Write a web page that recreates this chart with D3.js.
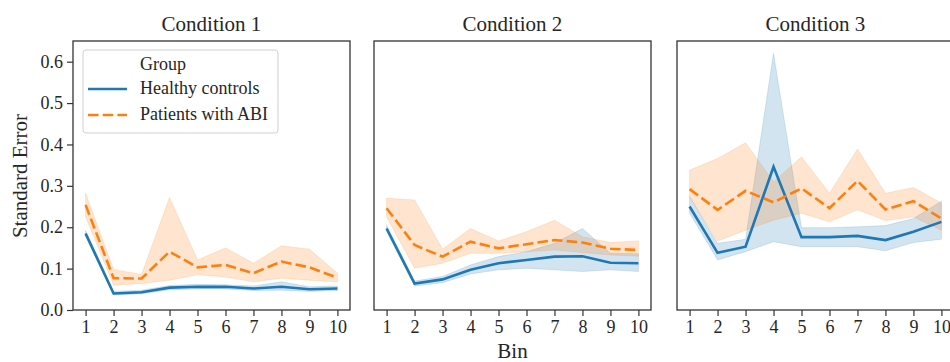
<!DOCTYPE html>
<html>
<head>
<meta charset="utf-8">
<script src="https://cdn.jsdelivr.net/npm/d3@7"></script>
<style>
  body { margin: 0; background: #fff; }
  svg { display: block; font-family: "Liberation Serif", "Times New Roman", serif; }
</style>
</head>
<body>
<div id="container"></div>
<script>
var width = 950;
var height = 362;

// data
var bins = [1, 2, 3, 4, 5, 6, 7, 8, 9, 10];
var conditions = ["Condition 1", "Condition 2", "Condition 3"];
var groups = ["Healthy controls", "Patients with ABI"];
var yTicks = [0.0, 0.1, 0.2, 0.3, 0.4, 0.5, 0.6];

// Healthy controls: mean, lower, upper (per condition)
var hcMean = [
  [0.185, 0.040, 0.043, 0.054, 0.056, 0.056, 0.052, 0.056, 0.050, 0.052],
  [0.197, 0.064, 0.074, 0.097, 0.113, 0.121, 0.129, 0.130, 0.114, 0.113],
  [0.250, 0.138, 0.153, 0.346, 0.176, 0.176, 0.179, 0.169, 0.189, 0.213]
];
var hcLow = [
  [0.178, 0.036, 0.039, 0.049, 0.051, 0.051, 0.047, 0.048, 0.045, 0.047],
  [0.190, 0.058, 0.066, 0.087, 0.097, 0.101, 0.097, 0.093, 0.097, 0.093],
  [0.234, 0.121, 0.141, 0.165, 0.153, 0.153, 0.153, 0.143, 0.163, 0.171]
];
var hcHigh = [
  [0.192, 0.045, 0.048, 0.059, 0.062, 0.061, 0.058, 0.068, 0.056, 0.058],
  [0.205, 0.070, 0.081, 0.109, 0.129, 0.141, 0.161, 0.197, 0.137, 0.136],
  [0.274, 0.161, 0.171, 0.620, 0.199, 0.199, 0.201, 0.204, 0.221, 0.263]
];

// Patients with ABI: mean, lower, upper (per condition)
var abiMean = [
  [0.254, 0.077, 0.076, 0.141, 0.103, 0.109, 0.089, 0.117, 0.103, 0.078],
  [0.246, 0.157, 0.129, 0.165, 0.149, 0.159, 0.169, 0.163, 0.148, 0.145],
  [0.292, 0.242, 0.288, 0.260, 0.294, 0.246, 0.312, 0.243, 0.263, 0.221]
];
var abiLow = [
  [0.225, 0.060, 0.064, 0.072, 0.085, 0.080, 0.068, 0.077, 0.072, 0.068],
  [0.225, 0.101, 0.113, 0.137, 0.137, 0.141, 0.145, 0.139, 0.133, 0.130],
  [0.274, 0.167, 0.193, 0.217, 0.234, 0.213, 0.242, 0.216, 0.225, 0.193]
];
var abiHigh = [
  [0.282, 0.098, 0.086, 0.272, 0.121, 0.150, 0.113, 0.155, 0.147, 0.089],
  [0.270, 0.266, 0.147, 0.197, 0.167, 0.189, 0.217, 0.177, 0.163, 0.167],
  [0.338, 0.366, 0.404, 0.310, 0.370, 0.282, 0.389, 0.282, 0.296, 0.258]
];

var blue = "#1f77b4";
var orange = "#ff7f0e";

var panelLeft = [73, 374, 677];
var panelW = 277;
var plotTop = 41, plotBottom = 310;

var svg = d3.select("#container").append("svg")
  .attr("width", width).attr("height", height);

var y = d3.scaleLinear().domain([0, 0.65]).range([plotBottom, plotTop]);

conditions.forEach(function (cond, ci) {
  var x = d3.scaleLinear().domain([0.55, 10.45]).range([panelLeft[ci], panelLeft[ci] + panelW]);
  var g = svg.append("g");

  var series = [
    { mean: hcMean[ci], lo: hcLow[ci], hi: hcHigh[ci], color: blue, dash: null },
    { mean: abiMean[ci], lo: abiLow[ci], hi: abiHigh[ci], color: orange, dash: "10.5,4.2" }
  ];

  series.forEach(function (s) {
    var area = d3.area()
      .x(function (d, i) { return x(bins[i]); })
      .y0(function (d, i) { return y(s.lo[i]); })
      .y1(function (d, i) { return y(s.hi[i]); });
    g.append("path").datum(s.mean)
      .attr("d", area)
      .attr("fill", s.color).attr("fill-opacity", 0.2)
      .attr("stroke", s.color).attr("stroke-opacity", 0.2).attr("stroke-width", 0.8);
  });
  series.forEach(function (s) {
    var line = d3.line()
      .x(function (d, i) { return x(bins[i]); })
      .y(function (d) { return y(d); });
    g.append("path").datum(s.mean)
      .attr("d", line)
      .attr("fill", "none")
      .attr("stroke", s.color).attr("stroke-width", 2.6)
      .attr("stroke-dasharray", s.dash);
  });

  // x axis
  var xAxis = d3.axisBottom(x).tickValues(bins).tickSize(6).tickPadding(4);
  var xa = g.append("g").attr("transform", "translate(0," + plotBottom + ")").call(xAxis);
  xa.select(".domain").remove();
  xa.selectAll("line").attr("stroke", "#333").attr("stroke-width", 1.2);
  xa.selectAll("text").attr("fill", "#262626").style("font-size", "18px")
    .style("font-family", "Liberation Serif, serif");

  if (ci === 0) {
    var yAxis = d3.axisLeft(y).tickValues(yTicks).tickFormat(d3.format(".1f")).tickSize(6).tickPadding(4);
    var ya = g.append("g").attr("transform", "translate(" + panelLeft[ci] + ",0)").call(yAxis);
    ya.select(".domain").remove();
    ya.selectAll("line").attr("stroke", "#333").attr("stroke-width", 1.2);
    ya.selectAll("text").attr("fill", "#262626").style("font-size", "18px")
      .style("font-family", "Liberation Serif, serif");
  }

  // frame
  g.append("rect")
    .attr("x", panelLeft[ci]).attr("y", plotTop)
    .attr("width", panelW).attr("height", plotBottom - plotTop)
    .attr("fill", "none").attr("stroke", "#333").attr("stroke-width", 1.3);

  // title
  g.append("text")
    .attr("x", panelLeft[ci] + panelW / 2).attr("y", 31)
    .attr("text-anchor", "middle")
    .attr("fill", "#262626")
    .style("font-size", "21px")
    .text(cond);
});

// axis labels
svg.append("text")
  .attr("transform", "translate(27,176) rotate(-90)")
  .attr("text-anchor", "middle")
  .attr("fill", "#262626")
  .style("font-size", "21px")
  .text("Standard Error");

svg.append("text")
  .attr("x", panelLeft[1] + panelW / 2).attr("y", 358)
  .attr("text-anchor", "middle")
  .attr("fill", "#262626")
  .style("font-size", "21px")
  .text("Bin");

// legend
var lg = svg.append("g");
lg.append("rect")
  .attr("x", 83).attr("y", 50).attr("width", 195).attr("height", 83)
  .attr("rx", 3)
  .attr("fill", "#fff").attr("fill-opacity", 0.8)
  .attr("stroke", "#d0d0d0").attr("stroke-width", 1);
lg.append("text").attr("x", 140).attr("y", 70)
  .attr("fill", "#262626").style("font-size", "18px").text("Group");
var legendColors = [blue, orange];
var legendDash = [null, "10.5,4.2"];
groups.forEach(function (name, i) {
  var ly = 89 + i * 26;
  lg.append("line")
    .attr("x1", 88).attr("x2", 127).attr("y1", ly).attr("y2", ly)
    .attr("stroke", legendColors[i]).attr("stroke-width", 2.6)
    .attr("stroke-dasharray", legendDash[i]);
  lg.append("text").attr("x", 140).attr("y", ly + 5)
    .attr("fill", "#262626").style("font-size", "18px").text(name);
});
</script>
</body>
</html>
